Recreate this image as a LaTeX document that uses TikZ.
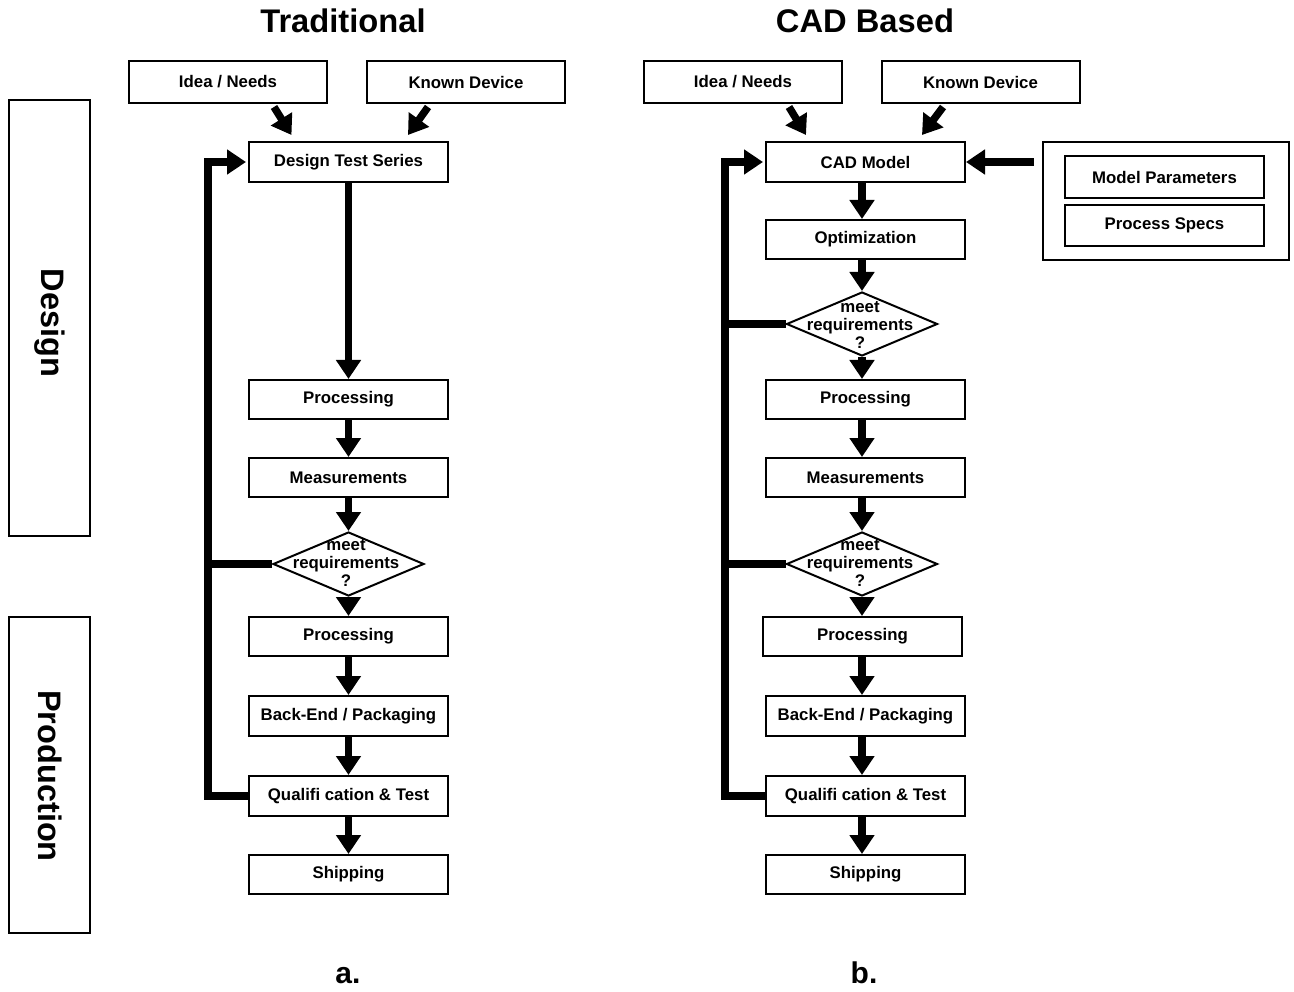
\documentclass[tikz,border=0pt]{standalone}
\usepackage{fontspec}
\setmainfont{Liberation Sans}
\usetikzlibrary{arrows.meta,shapes.geometric,calc}
\begin{document}
\begin{tikzpicture}[x=1pt,y=-1pt,
  box/.style={draw,line width=2pt,minimum width=199pt,minimum height=40pt,inner sep=0pt,font=\fontsize{16.8}{18}\selectfont\bfseries},
  dia/.style={draw,line width=2pt,diamond,minimum width=151pt,minimum height=64pt,inner sep=0pt},
  diatext/.style={align=center,font=\fontsize{16.8}{18}\selectfont\bfseries,inner sep=0pt},
  arr/.style={line width=7.5pt,-{Triangle[width=24pt,length=19pt]}},
  fat/.style={line width=7.5pt},
  sidebox/.style={draw,line width=2pt,minimum width=81pt,inner sep=0pt},
  sidetext/.style={rotate=-90,font=\fontsize{32.5}{36}\selectfont\bfseries},
  title/.style={anchor=base,font=\fontsize{32.7}{36}\selectfont\bfseries},
  sub/.style={anchor=base,font=\fontsize{30}{34}\selectfont\bfseries}
]
\useasboundingbox (0,0) rectangle (1294,992);
% titles
\node[title] (t1) at (343,33) {Traditional};
\node[title] (t2) at (865,33) {CAD Based};
\node[sub] (la) at (348,983) {a.};
\node[sub] (lb) at (864,983) {b.};
% side boxes
\node[sidebox,minimum height=436pt] (design) at (49.5,318) {};
\node[sidetext] (designt) at (50,323) {Design};
\node[sidebox,minimum height=316pt] (prod) at (49.5,775) {};
\node[sidetext] (prodt) at (50,776) {Production};
% left column
\node[box,minimum width=198pt,minimum height=42pt] (idea1) at (228,82) {Idea / Needs};
\node[box,minimum width=198pt,minimum height=42pt] (known1) at (466,82) {Known Device};
\node[box] (dts) at (348.5,162) {Design Test Series};
\node[box,minimum height=39pt] (proc1) at (348.5,399.5) {Processing};
\node[box,minimum height=39pt] (meas1) at (348.5,477.5) {Measurements};
\node[dia] (dia1) at (348.5,564) {};
\node[diatext] (dia1t) at (346,563) {meet\\requirements\\?};
\node[box,minimum height=39pt] (proc2) at (348.5,636.5) {Processing};
\node[box] (back1) at (348.5,716) {Back-End / Packaging};
\node[box] (qual1) at (348.5,796) {Qualifi cation \& Test};
\node[box,minimum height=39pt] (ship1) at (348.5,874.5) {Shipping};
% right column
\node[box,minimum width=198pt,minimum height=42pt] (idea2) at (743,82) {Idea / Needs};
\node[box,minimum width=198pt,minimum height=42pt] (known2) at (980.5,82) {Known Device};
\node[box] (cad) at (865.5,162) {CAD Model};
\node[box,minimum height=39pt] (opt) at (865.5,239.5) {Optimization};
\node[dia] (diaA) at (862,324) {};
\node[diatext] (diaAt) at (860,325) {meet\\requirements\\?};
\node[box,minimum height=39pt] (proc3) at (865.5,399.5) {Processing};
\node[box,minimum height=39pt] (meas2) at (865.5,477.5) {Measurements};
\node[dia] (diaB) at (862,564) {};
\node[diatext] (diaBt) at (860,563) {meet\\requirements\\?};
\node[box,minimum height=39pt] (proc4) at (862.5,636.5) {Processing};
\node[box] (back2) at (865.5,716) {Back-End / Packaging};
\node[box] (qual2) at (865.5,796) {Qualifi cation \& Test};
\node[box,minimum height=39pt] (ship2) at (865.5,874.5) {Shipping};
% parameter box
\node[draw,line width=2pt,minimum width=246pt,minimum height=118pt,inner sep=0pt] (outer) at (1166,201) {};
\node[box,minimum height=42pt] (mp) at (1164.5,177) {Model Parameters};
\node[box,minimum height=41pt] (ps) at (1164.5,225.5) {Process Specs};
% loop coordinates
\coordinate (LL) at (208,0);
\coordinate (LR) at (725,0);
% left arrows
\draw[arr] ([xshift=46pt,yshift=-3pt]idea1.south) -- ([xshift=-57pt,yshift=6pt]dts.north);
\draw[arr] ([xshift=-38pt,yshift=-3pt]known1.south) -- ([xshift=59.5pt,yshift=6pt]dts.north);
\draw[arr] (dts.south) -- (proc1.north);
\draw[arr] (proc1.south) -- (meas1.north);
\draw[arr] (meas1.south) -- (dia1.north);
\draw[arr] (dia1.south) -- (proc2.north);
\draw[arr] (proc2.south) -- (back1.north);
\draw[arr] (back1.south) -- (qual1.north);
\draw[arr] (qual1.south) -- (ship1.north);
\draw[arr] (qual1.west) -| (LL |- dts.west) -- ([xshift=-2pt]dts.west);
\draw[fat] (dia1.west) -- (dia1.west -| LL);
% right arrows
\draw[arr] ([xshift=46pt,yshift=-3pt]idea2.south) -- ([xshift=-59.5pt,yshift=6pt]cad.north);
\draw[arr] ([xshift=-37.5pt,yshift=-3pt]known2.south) -- ([xshift=56.5pt,yshift=6pt]cad.north);
\draw[arr] (cad.south -| diaA) -- (opt.north -| diaA);
\draw[arr] (opt.south -| diaA) -- (diaA.north);
\draw[arr] (diaA.south) -- (proc3.north -| diaA);
\draw[arr] (proc3.south -| diaA) -- (meas2.north -| diaA);
\draw[arr] (meas2.south -| diaA) -- (diaB.north);
\draw[arr] (diaB.south) -- (proc4.north -| diaB);
\draw[arr] (proc4.south -| diaB) -- (back2.north -| diaB);
\draw[arr] (back2.south -| diaB) -- (qual2.north -| diaB);
\draw[arr] (qual2.south -| diaB) -- (ship2.north -| diaB);
\draw[arr] (qual2.west) -| (LR |- cad.west) -- ([xshift=-2pt]cad.west);
\draw[fat] (diaA.west) -- (diaA.west -| LR);
\draw[fat] (diaB.west) -- (diaB.west -| LR);
\draw[arr] ($(outer.west |- cad.east)+(-8,0)$) -- (cad.east);
\end{tikzpicture}
\end{document}
